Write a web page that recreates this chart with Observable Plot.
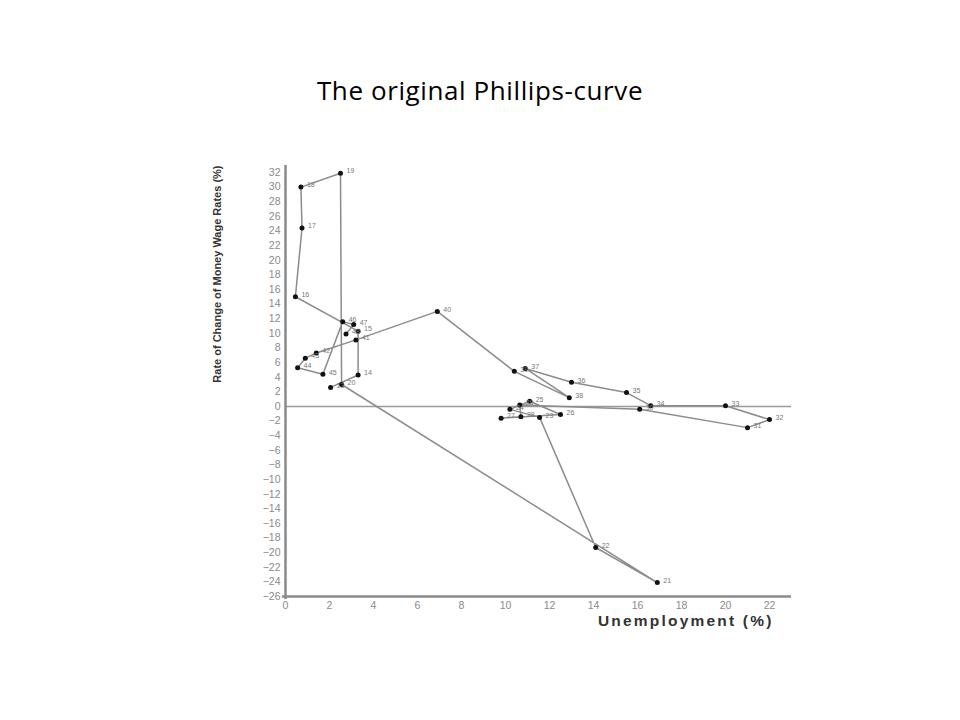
<!DOCTYPE html>
<html><head><meta charset="utf-8">
<script src="https://cdn.jsdelivr.net/npm/d3@7"></script>
<script src="https://cdn.jsdelivr.net/npm/@observablehq/plot@0.6"></script>
<style>
body{margin:0;background:#fff;width:960px;height:720px;position:relative;overflow:hidden}
#title{position:absolute;top:74px;left:0;width:960px;text-align:center;font:26px "Open Sans", Lato, sans-serif;letter-spacing:0.6px;color:#000;line-height:32px}
#chart{position:absolute;top:140px;left:0}
</style></head><body>
<div id="title"></div>
<div id="chart"></div>
<script>
const title = "The original Phillips-curve";
const xLabel = "Unemployment (%)";
const yLabel = "Rate of Change of Money Wage Rates (%)";
const years = ["13","14","15","16","17","18","19","20","21","22","23","24","25","26","27","28","29","30","31","32","33","34","35","36","37","38","39","40","41","42","43","44","45","46","47","48"];
const unemployment = [2.05,3.3,3.3,0.45,0.75,0.7,2.5,2.55,16.9,14.1,11.55,10.2,11.1,12.5,9.8,10.7,10.65,16.1,21.0,22.0,20.0,16.6,15.5,13.0,10.9,12.9,10.4,6.9,3.2,1.4,0.9,0.55,1.7,2.6,3.1,2.75];
const wageChange = [2.6,4.3,10.3,15.0,24.4,30.0,31.9,3.0,-24.1,-19.3,-1.5,-0.4,0.7,-1.1,-1.6,-1.4,0.2,-0.4,-2.9,-1.8,0.1,0.1,1.9,3.3,5.2,1.2,4.8,13.0,9.1,7.3,6.6,5.3,4.4,11.6,11.2,9.9];
const xTicks = [0,2,4,6,8,10,12,14,16,18,20,22];
const yTicks = d3.range(-26, 33, 2);

document.getElementById("title").textContent = title;
const data = years.map((yr, i) => ({year: yr, u: unemployment[i], w: wageChange[i]}));

const chart = Plot.plot({
  width: 960, height: 500,
  marginTop: 32, marginBottom: 44, marginLeft: 285, marginRight: 169,
  x: {domain: [0, 23]},
  y: {domain: [yTicks[0], yTicks[yTicks.length - 1]]},
  style: {fontFamily: "'Liberation Sans', Arial, sans-serif", background: "white"},
  marks: [
    Plot.ruleY([0], {stroke: "#9a9a9a", strokeWidth: 1.5}),
    Plot.ruleX([xTicks[0]], {stroke: "#8a8a8a", strokeWidth: 2.5, insetTop: -7, insetBottom: -3}),
    Plot.ruleY([yTicks[0]], {stroke: "#8a8a8a", strokeWidth: 2.5, insetLeft: -3}),
    Plot.line(data, {x: "u", y: "w", stroke: "#8c8c8c", strokeWidth: 1.5}),
    Plot.dot(data, {x: "u", y: "w", r: 2.5, fill: "#111", stroke: "none"}),
    Plot.text(data, {x: "u", y: "w", text: "year", dx: 6, dy: -2, fontSize: 7, fill: "#777", textAnchor: "start"}),
    Plot.axisX({ticks: xTicks, tickSize: 0, tickPadding: 5, fontSize: 10.5, color: "#8a8a8a", label: null}),
    Plot.axisY({ticks: yTicks, tickSize: 0, tickPadding: 5, fontSize: 10.5, color: "#8a8a8a", label: null}),
    Plot.text([yLabel], {frameAnchor: "top-left", rotate: -90, textAnchor: "end", dx: -72, dy: -7, fontWeight: "bold", fontSize: 11, fill: "#333"}),
    Plot.text([xLabel], {frameAnchor: "bottom-right", textAnchor: "end", dx: -18, dy: 29, fontWeight: "bold", fontSize: 15.5, fill: "#333"})
  ]
});
d3.select(chart).selectAll("text").filter(function() { return this.textContent === xLabel; }).attr("letter-spacing", 2.2);
document.getElementById("chart").appendChild(chart);
</script>
</body></html>
